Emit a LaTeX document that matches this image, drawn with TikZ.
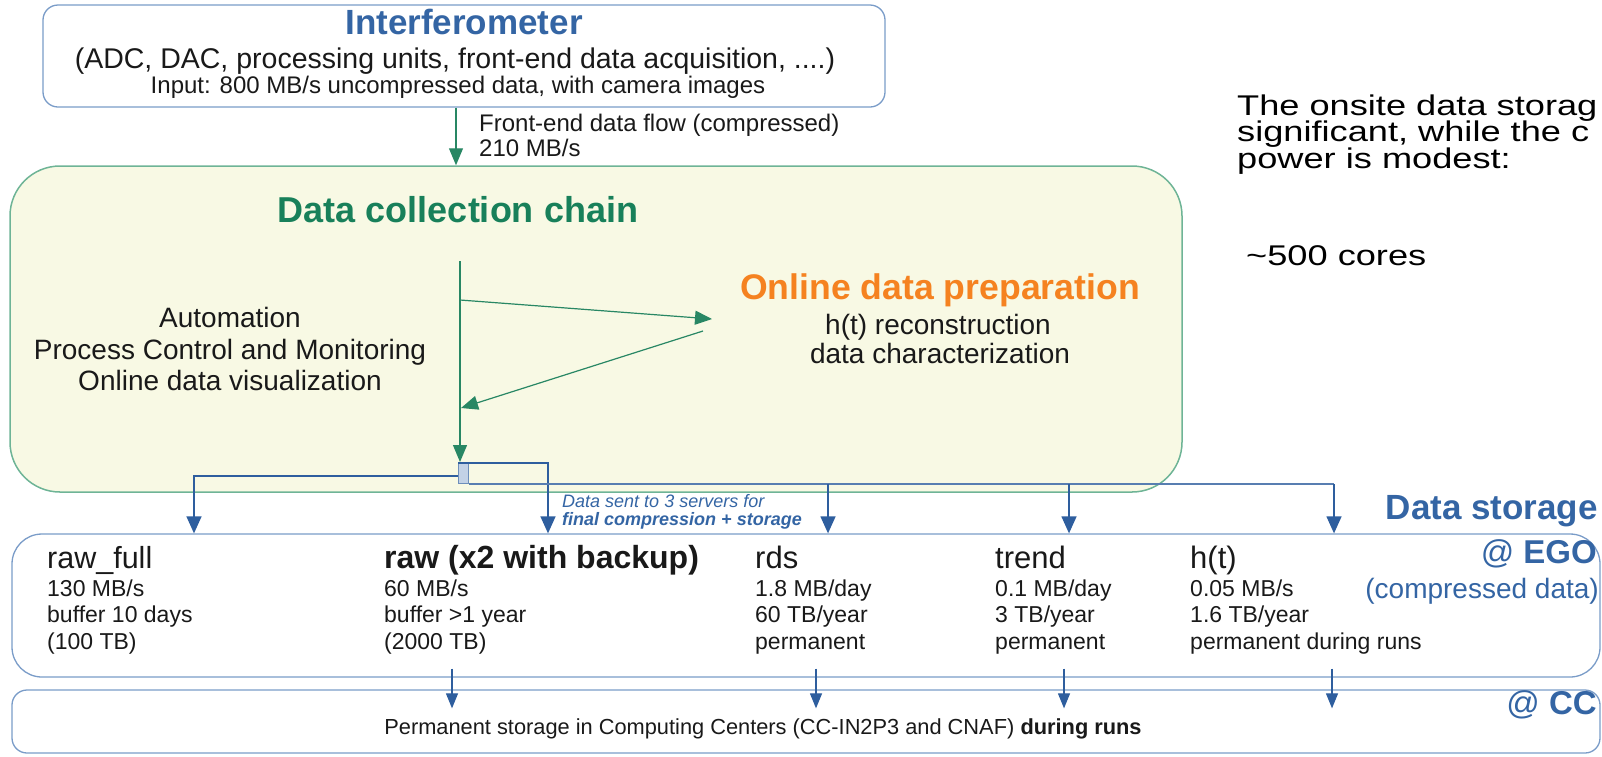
\documentclass[tikz,border=0pt]{standalone}
\usepackage{fontspec}
\setmainfont{Liberation Sans}
\newfontfamily\widefont[FakeStretch=1.27]{Liberation Sans}
\usetikzlibrary{arrows.meta}
\definecolor{tblue}{RGB}{52,101,164}
\definecolor{lblue}{RGB}{122,156,200}
\definecolor{dblue}{RGB}{46,94,158}
\definecolor{tgreen}{RGB}{24,128,90}
\definecolor{agreen}{RGB}{40,135,100}
\definecolor{lgreen}{RGB}{110,180,150}
\definecolor{yfill}{RGB}{248,249,228}
\definecolor{torange}{RGB}{245,130,32}
\definecolor{tdark}{RGB}{25,25,25}
\newcommand{\fsz}[1]{\fontsize{#1}{#1}\selectfont}
\tikzset{
  txt/.style={inner sep=0pt, text=tdark, anchor=base},
  txtl/.style={inner sep=0pt, text=tdark, anchor=base west},
  bbox/.style={draw=lblue, line width=1.3pt, inner sep=0pt},
  garrow/.style={draw=agreen, line width=1.2pt, -{Triangle[length=17pt,width=14pt]}},
  gline/.style={draw=agreen, line width=1.2pt},
  barrow/.style={draw=dblue!80, line width=1.4pt, -{Triangle[length=17pt,width=15pt]}, color=dblue},
  bline/.style={draw=dblue!80, line width=1.4pt},
  carrow/.style={draw=dblue, line width=1.2pt, -{Triangle[length=15pt,width=12pt]}},
}
\begin{document}
\begin{tikzpicture}[x=1pt,y=-1pt]
\useasboundingbox (0,0) rectangle (1602,756);
% boxes
\node (ib) [bbox, rounded corners=15pt, minimum width=842pt, minimum height=102pt] at (464,56) {};
\node (yb) [draw=lgreen, fill=yfill, line width=1.5pt, rounded corners=50pt, minimum width=1172pt, minimum height=326pt, inner sep=0pt] at (596,329) {};
\node (st) [bbox, rounded corners=30pt, minimum width=1588pt, minimum height=143pt] at (806,605.5) {};
\node (cc) [bbox, rounded corners=15pt, minimum width=1588pt, minimum height=63pt] at (806,721.5) {};
% interferometer texts
\node (t1) [txt, text=tblue, font=\fsz{35}\bfseries] at (464,34) {Interferometer};
\node (t2) [txt, font=\fsz{28.5}] at (455,68) {(ADC, DAC, processing units, front-end data acquisition, ....)};
\node (t3) [txt, font=\fsz{24}] at (458,93) {Input: 800 MB/s uncompressed data, with camera images};
\node (t4) [txtl, font=\fsz{24}] at (479,131) {Front-end data flow (compressed)};
\node (t5) [txtl, font=\fsz{24}] at (479,156) {210 MB/s};
% front-end flow arrow
\coordinate (fx) at (456,0);
\draw[garrow] (ib.south -| fx) -- (yb.north -| fx);
% yellow box content
\node (dcc) [txt, text=tgreen, font=\fsz{36}\bfseries] at (458,222) {Data collection chain};
\node (odp) [txt, text=torange, font=\fsz{35.6}\bfseries] at (940,299) {Online data preparation};
\node (hr) [txt, font=\fsz{28}] at (938,334) {h(t) reconstruction};
\node (dc) [txt, font=\fsz{28}] at (940,363) {data characterization};
\node (l1) [txt, font=\fsz{28}] at (230,327) {Automation};
\node (l2) [txt, font=\fsz{28}] at (230,359) {Process Control and Monitoring};
\node (l3) [txt, font=\fsz{28}] at (230,390) {Online data visualization};
\coordinate (vtop) at (460,261);
\coordinate (vbot) at (460,462);
\coordinate (a1s) at (460,300);
\coordinate (a1e) at (712,319);
\coordinate (a2s) at (703,331);
\coordinate (a2e) at (461,408);
\draw[gline] (vtop) -- (a1s);
\draw[garrow] (a1s) -- (vbot);
\draw[garrow] (a1s) -- (a1e);
\draw[garrow] (a2s) -- (a2e);
% junction and blue distribution
\node (jn) [draw=dblue!70, fill=lblue!45, line width=1pt, minimum width=10pt, minimum height=20pt, inner sep=0pt, anchor=north west] at (458,463) {};
\coordinate (d1) at (194,0);
\coordinate (d2) at (548,0);
\coordinate (d3) at (828,0);
\coordinate (d4) at (1069,0);
\coordinate (d5) at (1334,0);
\draw[barrow] (jn.north west) -- (jn.north west -| d2) -- (st.north -| d2);
\draw[barrow] ([yshift=-13pt]jn.north west) -- ([yshift=-13pt]jn.north west -| d1) -- (st.north -| d1);
\draw[bline] (jn.south east) -- (jn.south east -| d5);
\draw[barrow] (jn.south east -| d3) -- (st.north -| d3);
\draw[barrow] (jn.south east -| d4) -- (st.north -| d4);
\draw[barrow] (jn.south east -| d5) -- (st.north -| d5);
\node (ds1) [txtl, text=tblue, font=\fsz{18}\itshape] at (562,507) {Data sent to 3 servers for};
\node (ds2) [txtl, text=tblue, font=\fsz{18}\bfseries\itshape] at (562,525) {final compression + storage};
\node (dst) [inner sep=0pt, anchor=base east, text=tblue, font=\fsz{35}\bfseries] at (1598,519) {Data storage};
% storage columns
\node (c1h) [txtl, font=\fsz{30.5}] at (47,568) {raw\_full};
\node (c1a) [txtl, font=\fsz{23}] at (47,596) {130 MB/s};
\node (c1b) [txtl, font=\fsz{23}] at (47,622) {buffer 10 days};
\node (c1c) [txtl, font=\fsz{23}] at (47,649) {(100 TB)};
\node (c2h) [txtl, font=\fsz{32}\bfseries] at (384,568) {raw (x2 with backup)};
\node (c2a) [txtl, font=\fsz{23}] at (384,596) {60 MB/s};
\node (c2b) [txtl, font=\fsz{23}] at (384,622) {buffer >1 year};
\node (c2c) [txtl, font=\fsz{23}] at (384,649) {(2000 TB)};
\node (c3h) [txtl, font=\fsz{31}] at (755,568) {rds};
\node (c3a) [txtl, font=\fsz{23}] at (755,596) {1.8 MB/day};
\node (c3b) [txtl, font=\fsz{23}] at (755,622) {60 TB/year};
\node (c3c) [txtl, font=\fsz{23}] at (755,649) {permanent};
\node (c4h) [txtl, font=\fsz{31}] at (995,568) {trend};
\node (c4a) [txtl, font=\fsz{23}] at (995,596) {0.1 MB/day};
\node (c4b) [txtl, font=\fsz{23}] at (995,622) {3 TB/year};
\node (c4c) [txtl, font=\fsz{23}] at (995,649) {permanent};
\node (c5h) [txtl, font=\fsz{31}] at (1190,568) {h(t)};
\node (c5a) [txtl, font=\fsz{23}] at (1190,596) {0.05 MB/s};
\node (c5b) [txtl, font=\fsz{23}] at (1190,622) {1.6 TB/year};
\node (c5c) [txtl, font=\fsz{23}] at (1190,649) {permanent during runs};
\node (ego) [inner sep=0pt, anchor=base east, text=tblue, font=\fsz{33}] at (1597,563) {@ \textbf{EGO}};
\node (cmp) [inner sep=0pt, anchor=base east, text=tblue, font=\fsz{28}] at (1599,598) {(compressed data)};
% storage -> CC arrows
\coordinate (e1) at (452,0);
\coordinate (e2) at (816,0);
\coordinate (e3) at (1064,0);
\coordinate (e4) at (1332,0);
\foreach \e in {e1,e2,e3,e4} {
  \draw[carrow] ([yshift=9pt]st.south -| \e) -- ([yshift=-19pt]cc.north -| \e);
}
\node (cct) [txt, font=\fsz{21.8}] at (763,734) {Permanent storage in Computing Centers (CC-IN2P3 and CNAF) \textbf{during runs}};
\node (atcc) [inner sep=0pt, anchor=base east, text=tblue, font=\fsz{33}] at (1597,714) {@ \textbf{CC}};
% right text
\node (rt1) [inner sep=0pt, anchor=base west, text=black, font=\widefont\fsz{28.5}] at (1237,115) {The onsite data storag};
\node (rt2) [inner sep=0pt, anchor=base west, text=black, font=\widefont\fsz{28.5}] at (1237,141.5) {significant, while the c};
\node (rt3) [inner sep=0pt, anchor=base west, text=black, font=\widefont\fsz{28.5}] at (1237,168) {power is modest:};
\node (cores) [inner sep=0pt, anchor=base west, text=black, font=\widefont\fsz{28.5}] at (1246,265) {\textasciitilde 500 cores};
\end{tikzpicture}
\end{document}
